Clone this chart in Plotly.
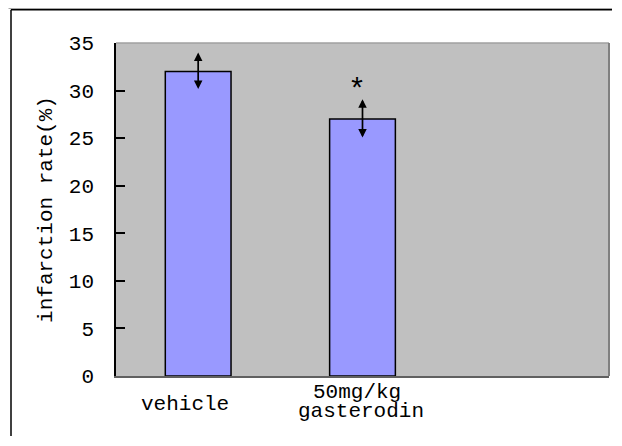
import plotly.graph_objects as go

# ---- data ----
categories = ["vehicle", "50mg/kg<br>gasterodin"]
values = [32.0, 27.0]
errors = [2.0, 2.1]
y_ticks = [0, 5, 10, 15, 20, 25, 30, 35]
sig_marks = ["", "*"]
y_title = "infarction rate(%)"

# ---- geometry (screen pixels; page body has an 8px margin) ----
OFF = 8
W, H = 622 - 2 * OFF - 1, 446 - 2 * OFF - 1   # fits the window without scrollbars
PL, PT, PR, PB = 116, 43, 609, 376            # plot box on screen
L, T = PL - OFF, PT - OFF
R, B = W - (PR - OFF), H - (PB - OFF)
pw, ph = W - L - R, H - T - B
SX_MAX, SY_MAX = W + OFF - 1, H + OFF - 1     # keep shapes inside the figure


def px_x(sx):
    return (sx - PL) / pw


def px_y(sy):
    return (PB - sy) / ph


FONT = "Liberation Mono, DejaVu Sans Mono, monospace"

fig = go.Figure()
fig.add_trace(go.Bar(
    x=categories, y=values, width=0.4,
    marker=dict(color="#9999ff", line=dict(color="black", width=1.5)),
    hoverinfo="skip",
))

annotations = []
for cat, v, e, s in zip(categories, values, errors, sig_marks):
    annotations.append(dict(
        x=cat, y=v + e, ax=cat, ay=v - e, xref="x", yref="y", axref="x", ayref="y",
        text="", showarrow=True, arrowhead=2, startarrowhead=2, arrowside="end+start",
        arrowwidth=1.7, arrowsize=1, startarrowsize=1, arrowcolor="black",
    ))
    if s:
        annotations.append(dict(
            x=cat, y=v + e + 0.9, xref="x", yref="y", text=s, showarrow=False,
            xshift=-6, yanchor="middle",
            font=dict(family=FONT, size=30, color="black"),
        ))

# category labels below the axis
label_shift = [-13, -2]
for cat, xs in zip(categories, label_shift):
    lines = cat.split("<br>")
    if len(lines) == 1:
        annotations.append(dict(x=cat, y=0, xref="x", yref="paper", text=lines[0],
                                showarrow=False, yanchor="top", yshift=-15, xshift=xs,
                                font=dict(family=FONT, size=21, color="black")))
    else:
        for i, ln in enumerate(lines):
            annotations.append(dict(x=cat, y=0, xref="x", yref="paper", text=ln,
                                    showarrow=False, yanchor="top",
                                    yshift=-3 - 19 * i, xshift=xs - 4 + 4 * i,
                                    font=dict(family=FONT, size=21, color="black")))

shapes = [
    # outer frame
    dict(type="line", xref="paper", yref="paper", x0=px_x(OFF + 0.5), x1=px_x(SX_MAX),
         y0=px_y(8.5), y1=px_y(8.5), line=dict(color="#a8a8a8", width=1)),
    dict(type="line", xref="paper", yref="paper", x0=px_x(11), x1=px_x(SX_MAX),
         y0=px_y(9.8), y1=px_y(9.8), line=dict(color="black", width=1.5)),
    dict(type="line", xref="paper", yref="paper", x0=px_x(11), x1=px_x(11),
         y0=px_y(9.8), y1=px_y(SY_MAX), line=dict(color="black", width=1.5)),
    # plot-area edges
    dict(type="line", xref="paper", yref="paper", x0=0, x1=1, y0=1, y1=1,
         line=dict(color="#a0a0a0", width=1.5)),
    dict(type="line", xref="paper", yref="paper", x0=1, x1=1, y0=0, y1=1,
         line=dict(color="#808080", width=2)),
]

fig.update_layout(
    width=W, height=H,
    margin=dict(l=L, r=R, t=T, b=B, pad=0),
    paper_bgcolor="white", plot_bgcolor="#c0c0c0",
    showlegend=False,
    font=dict(family=FONT, size=21, color="black"),
    annotations=annotations, shapes=shapes,
    xaxis=dict(type="category", categoryarray=categories, range=[-0.5, 2.5],
               showticklabels=False, ticks="", showgrid=False, zeroline=False,
               showline=True, linecolor="#606060", linewidth=2, fixedrange=True),
    yaxis=dict(range=[0, 35], tickvals=y_ticks, ticks="inside", ticklen=9,
               tickcolor="black", tickwidth=1.5, showgrid=False, zeroline=False,
               showline=True, linecolor="black", linewidth=1.5,
               ticklabelstandoff=16,
               tickfont=dict(family=FONT, size=21, color="black"),
               title=dict(text=y_title, standoff=10,
                          font=dict(family=FONT, size=21, color="black")),
               fixedrange=True),
)

fig.write_html(
    "out.html", config={"displayModeBar": False},
    post_script="document.documentElement.style.overflow='hidden';"
                "document.body.style.overflow='hidden';",
)
